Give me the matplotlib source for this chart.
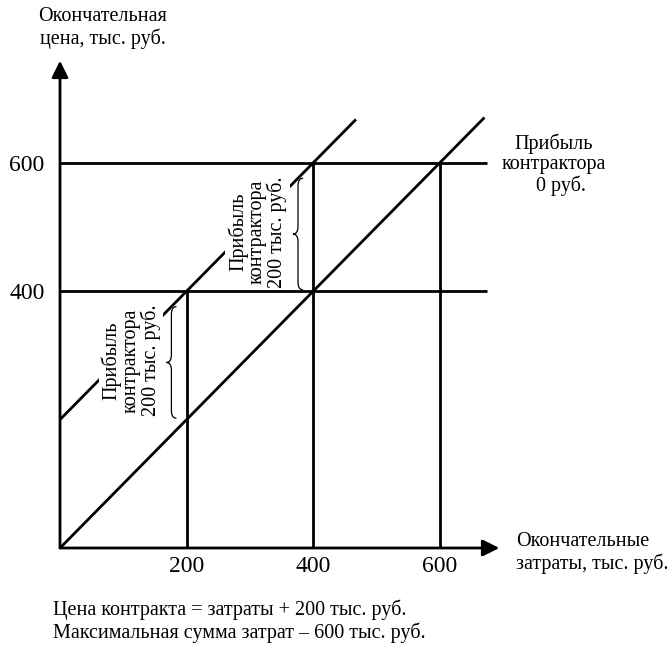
import matplotlib.pyplot as plt
from matplotlib.path import Path
from matplotlib.patches import PathPatch

plt.rcParams['font.family'] = ['Liberation Serif', 'DejaVu Serif']

# costs and prices, thousand rubles
cost_ticks = [200, 400, 600]
price_ticks = [400, 600]
markup = 200          # contract price = cost + markup
cost_cap = 600        # maximum cost
fixed_line_end = 669  # end of the price = cost line
markup_line_end = 466 # end of the price = cost + markup line
level_end = 674       # end of the horizontal price levels
x_max = 694
y_max = 759

profit_label = "Прибыль\nконтрактора\n200 тыс. руб."
zero_label = "Прибыль\nконтрактора\n   0 руб."

LW = 2.0


def brace(ax, x, y0, y1, w, r):
    ym = (y0 + y1) / 2
    verts = [(x + w, y1), (x, y1), (x, y1 - r), (x, ym + r), (x, ym), (x - w, ym),
             (x, ym), (x, ym - r), (x, y0 + r), (x, y0), (x + w, y0)]
    codes = [Path.MOVETO, Path.CURVE3, Path.CURVE3, Path.LINETO, Path.CURVE3, Path.CURVE3,
             Path.CURVE3, Path.CURVE3, Path.LINETO, Path.CURVE3, Path.CURVE3]
    ax.add_patch(PathPatch(Path(verts, codes), fill=False, lw=0.9, color='k'))


fig = plt.figure(figsize=(6.7, 6.45), dpi=100)
ax = fig.add_axes([60 / 670, 97 / 645, x_max * 0.633 / 670, y_max * 0.642 / 645])
ax.set_xlim(0, x_max)
ax.set_ylim(0, y_max)
for s in ax.spines.values():
    s.set_visible(False)

# axes with arrows
arrow = dict(arrowstyle='-|>,head_length=1.0,head_width=0.5', lw=LW, color='k',
             shrinkA=0, shrinkB=0, mutation_scale=10)
ax.annotate('', xy=(x_max, 0), xytext=(0, 0), arrowprops=arrow, annotation_clip=False)
ax.annotate('', xy=(0, y_max), xytext=(0, 0), arrowprops=arrow, annotation_clip=False)

# price levels
for p in price_ticks:
    ax.plot([0, level_end], [p, p], color='k', lw=LW, solid_capstyle='butt')

# vertical lines up to the contract price (capped)
for c in cost_ticks:
    ax.plot([c, c], [0, min(c + markup, cost_cap)], color='k', lw=LW, solid_capstyle='butt')

# price = cost and price = cost + markup
ax.plot([0, fixed_line_end], [0, fixed_line_end], color='k', lw=LW)
ax.plot([0, markup_line_end], [markup, markup_line_end + markup], color='k', lw=LW)

# profit braces and labels
for c in cost_ticks[:2]:
    brace(ax, c - 24, c + 2, c + 176, 8, 12)
    ax.text(c - 88, c + 92, profit_label, rotation=90, ha='center', va='center',
            multialignment='center', fontsize=14.5, linespacing=1.0,
            bbox=dict(fc='white', ec='none', pad=1.5))

ax.text(780, 597, zero_label, ha='center', va='center', multialignment='center',
        fontsize=14.5, linespacing=1.1)

ax.set_xticks(cost_ticks)
ax.set_yticks(price_ticks)
ax.tick_params(length=0, labelsize=17)
ax.tick_params(axis='x', pad=6)
ax.tick_params(axis='y', pad=11)

ax.text(68, 810, "Окончательная\nцена, тыс. руб.", ha='center', va='center',
        multialignment='center', fontsize=14.5, linespacing=1.15)
ax.text(720, -8, "Окончательные\nзатраты, тыс. руб.", ha='left', va='center',
        fontsize=14.5, linespacing=1.2)
ax.text(-11, -114, "Цена контракта = затраты + 200 тыс. руб.\n"
        "Максимальная сумма затрат – 600 тыс. руб.", ha='left', va='center',
        fontsize=14.5, linespacing=1.2)

fig.savefig("out.png", dpi=100)
